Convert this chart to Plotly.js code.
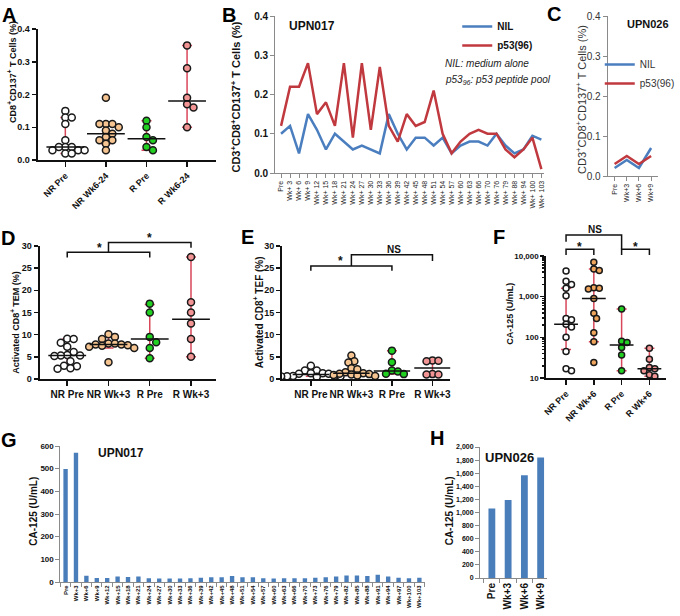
<!DOCTYPE html>
<html lang="en">
<head>
<meta charset="UTF-8">
<title>CD8 responses and CA-125</title>
<script src="https://cdn.plot.ly/plotly-3.0.1.min.js"></script>
<style>
  body { margin: 0; background: #fff; }
  #fig { width: 680px; height: 616px; }
</style>
</head>
<body>
<div id="fig"></div>
<script>
const FONT = 'Liberation Sans, Arial, sans-serif';
const W = 680, H = 616;

// ---------- A: CD8+CD137+ ----------
const groupsA = ['NR Pre', 'NR Wk6-24', 'R Pre', 'R Wk6-24'];
const aNRPre = [0.15, 0.13, 0.13, 0.11, 0.06, 0.04, 0.04, 0.04, 0.03, 0.03, 0.03, 0.02, 0.02];
const aNRWk = [0.19, 0.11, 0.11, 0.11, 0.10, 0.09, 0.08, 0.07, 0.06, 0.06, 0.05, 0.03];
const aRPre = [0.12, 0.10, 0.07, 0.06, 0.04, 0.03];
const aRWk = [0.35, 0.28, 0.19, 0.17, 0.16, 0.10];
const aMedian = [0.04, 0.08, 0.065, 0.18];
const aLow = [0.02, 0.05, 0.03, 0.10];
const aHigh = [0.13, 0.11, 0.12, 0.35];

// ---------- B / C: UPN017, UPN026 lines ----------
const weeksB = ['Pre', 'Wk+ 3', 'Wk+ 6', 'Wk+ 9', 'Wk+ 12', 'Wk+ 15', 'Wk+ 18', 'Wk+ 21', 'Wk+ 24', 'Wk+ 27',
  'Wk+ 30', 'Wk+ 33', 'Wk+ 36', 'Wk+ 39', 'Wk+ 42', 'Wk+ 45', 'Wk+ 48', 'Wk+ 51', 'Wk+ 54', 'Wk+ 57',
  'Wk+ 60', 'Wk+ 63', 'Wk+ 66', 'Wk+ 70', 'Wk+ 76', 'Wk+ 79', 'Wk+ 88', 'Wk+ 94', 'Wk+ 100', 'Wk+ 103'];
const nilB = [0.10, 0.12, 0.05, 0.15, 0.11, 0.06, 0.10, 0.08, 0.06, 0.07, 0.06, 0.05, 0.15, 0.10, 0.06,
  0.09, 0.09, 0.07, 0.09, 0.05, 0.07, 0.08, 0.08, 0.07, 0.10, 0.07, 0.05, 0.06, 0.095, 0.085];
const p53B = [0.12, 0.22, 0.22, 0.28, 0.15, 0.18, 0.12, 0.28, 0.09, 0.28, 0.11, 0.27, 0.12, 0.08, 0.15,
  0.12, 0.13, 0.21, 0.10, 0.05, 0.08, 0.10, 0.11, 0.10, 0.10, 0.06, 0.04, 0.06, 0.09, 0.01];
const weeksC = ['Pre', 'Wk+3', 'Wk+6', 'Wk+9'];
const nilC = [0.02, 0.04, 0.02, 0.07];
const p53C = [0.03, 0.05, 0.03, 0.05];

// ---------- D: TEM ----------
const groupsDE = ['NR Pre', 'NR Wk+3', 'R Pre', 'R Wk+3'];
const dNRPre = [9.1, 9.0, 8.2, 7.3, 6.1, 5.4, 5.3, 5.3, 5.2, 4.0, 3.0, 2.9, 2.4, 2.3];
const dNRWk = [10.1, 9.5, 9.0, 8.0, 8.0, 7.8, 7.8, 7.6, 7.5, 7.3, 7.0, 3.8];
const dRPre = [17.0, 15.0, 9.5, 8.3, 7.0, 4.7];
const dRWk = [27.5, 17.3, 15.0, 12.5, 9.0, 5.0];
const dMedian = [5.3, 7.8, 9.0, 13.5];
const dLow = [3.0, 7.0, 4.7, 5.0];
const dHigh = [9.0, 9.5, 16.8, 27.5];

// ---------- E: TEF ----------
const eNRPre = [3.0, 1.9, 1.9, 1.3, 1.3, 1.2, 1.2, 0.7, 0.7, 0.6, 0.6, 0.6, 0.5];
const eNRWk = [5.3, 4.0, 3.7, 2.4, 2.2, 1.5, 1.3, 1.2, 1.1, 1.0, 0.9, 0.8, 0.7];
const eRPre = [6.4, 3.8, 1.9, 1.7, 1.2, 1.1];
const eRWk = [4.2, 4.1, 4.0, 1.1, 1.0, 1.0];
const eMedian = [1.0, 1.3, 1.8, 2.5];
const eLow = [0.6, 0.8, 1.1, 1.0];
const eHigh = [1.8, 3.8, 6.4, 4.2];

// ---------- F: CA-125 groups ----------
const groupsF = ['NR Pre', 'NR Wk+6', 'R Pre', 'R Wk+6'];
const fNRPre = [4300, 2400, 2000, 1600, 1050, 290, 270, 210, 180, 100, 45, 17, 15];
const fNRWk = [7000, 4800, 4400, 1650, 1600, 1550, 900, 390, 290, 130, 78, 24];
const fRPre = [500, 80, 75, 56, 37, 15];
const fRWk = [54, 29, 18, 17, 15, 12, 11];
const fMedian = [210, 900, 65, 17];
const fLow = [50, 78, 15, 11];
const fHigh = [1600, 4800, 500, 54];
const fTickVals = [10, 100, 1000, 10000];
const fTickText = ['10', '100', '1,000', '10,000'];

// ---------- G / H: CA-125 per patient ----------
const weeksG = ['Pre', 'Wk+3', 'Wk+6', 'Wk+9', 'Wk+12', 'Wk+15', 'Wk+18', 'Wk+21', 'Wk+24', 'Wk+27', 'Wk+30',
  'Wk+33', 'Wk+36', 'Wk+39', 'Wk+42', 'Wk+45', 'Wk+48', 'Wk+51', 'Wk+54', 'Wk+57', 'Wk+60', 'Wk+63',
  'Wk+66', 'Wk+70', 'Wk+73', 'Wk+76', 'Wk+79', 'Wk+82', 'Wk+85', 'Wk+88', 'Wk+91', 'Wk+94', 'Wk+97',
  'Wk+100', 'Wk+103'];
const caG = [498, 570, 28, 18, 18, 24, 22, 24, 17, 15, 15, 15, 17, 19, 21, 21, 26, 21, 21, 17, 15, 17,
  17, 17, 19, 21, 24, 29, 29, 27, 32, 24, 19, 17, 19];
const weeksH = ['Pre', 'Wk+3', 'Wk+6', 'Wk+9'];
const caH = [1060, 1190, 1570, 1840];

// significance brackets: from, to, level, left end, right end, label, label x, label y
const bracketsD = [
  [0, 2, 28.6, 27.4, 27.4, '*', 0.78, 29.6],
  [1, 3, 30.8, 28.6, 29.6, '*', 2.0, 31.8]
];
const bracketsE = [
  [0, 2, 25.5, 24.4, 24.4, '*', 0.73, 26.6],
  [1, 3, 28.0, 25.5, 26.6, 'NS', 2.05, 29.1]
];
const bracketsF = [
  [0, 2, 32800, 22400, 14600, 'NS', 1.03, 43600],
  [0, 1, 14600, 10600, 10600, '*', 0.5, 16600],
  [2, 3, 14600, 10600, 10600, '*', 2.5, 16600]
];

// ---------- styling ----------
const BLUE = '#4a7ebf', RED = '#c0393f', BAR = '#4a7ebb', ERR = '#d9475a';
const dotColors = ['#ffffff', '#f5c491', '#22d022', '#f49595'];
const dotColorsF = ['#ffffff', '#f0a55c', '#22d022', '#f49595'];

// pixel boxes [left, right, top, bottom] of each plot area
const boxA = [38, 218, 29, 160], boxB = [278, 550, 16, 173], boxC = [614, 665, 16, 176];
const boxD = [40, 218, 246, 379], boxE = [285, 455, 246, 379], boxF = [552, 673, 256, 378];
const boxG = [61, 429, 446, 582], boxH = [485, 553, 447, 578];
const xrA = [-0.683, 3.707], xrB = [-0.66, 29.33], xrC = [-0.57, 3.58], xrD = [-0.67, 3.6];
const xrE = [-0.71, 3.44], xrF = [-0.71, 3.6], xrG = [-0.5, 34.5], xrH = [-0.73, 3.41];

function domainOf(box) {
  return { x: [box[0] / W, box[1] / W], y: [1 - box[3] / H, 1 - box[2] / H] };
}

function toPaper(box, xr, yr, isLog) {
  return {
    x: c => (box[0] + (c - xr[0]) / (xr[1] - xr[0]) * (box[1] - box[0])) / W,
    y: v => 1 - (box[3] - ((isLog ? Math.log10(v) : v) - yr[0]) / (yr[1] - yr[0]) * (box[3] - box[2])) / H
  };
}

// spread close values sideways (circles may overlap a little, like the prism plots)
function swarm(vals, toPx, pxPerCat, gap) {
  const placed = [];
  const out = new Array(vals.length);
  const order = vals.map((v, i) => i).sort((a, b) => vals[b] - vals[a]);
  const step = gap * 0.5;
  order.forEach(i => {
    const py = toPx(vals[i]);
    for (let k = 0; k < 60; k++) {
      const off = k === 0 ? 0 : (k % 2 ? 1 : -1) * Math.ceil(k / 2) * step;
      if (placed.every(p => Math.hypot(p.x - off, p.y - py) >= gap)) {
        placed.push({ x: off, y: py });
        out[i] = off / pxPerCat;
        break;
      }
    }
  });
  return out;
}

function dotPanel(n, box, xr, yr, isLog, groups, meds, lows, highs, colors, size, gap, medW) {
  const xa = 'x' + n, ya = 'y' + n;
  const pxPerCat = (box[1] - box[0]) / (xr[1] - xr[0]);
  const toPx = v => ((isLog ? Math.log10(v) : v) - yr[0]) / (yr[1] - yr[0]) * (box[3] - box[2]);
  const traces = [];
  groups.forEach((vals, i) => {
    traces.push({
      x: [i], y: [meds[i]], xaxis: xa, yaxis: ya, mode: 'markers', type: 'scatter', showlegend: false,
      marker: { size: 1, color: 'rgba(0,0,0,0)' }, hoverinfo: 'skip',
      error_y: { type: 'data', symmetric: false, array: [highs[i] - meds[i]], arrayminus: [meds[i] - lows[i]],
        color: ERR, thickness: 1.5, width: 5 }
    });
  });
  groups.forEach((vals, i) => {
    const offs = swarm(vals, toPx, pxPerCat, gap);
    traces.push({
      x: offs.map(o => i + o), y: vals, xaxis: xa, yaxis: ya, mode: 'markers', type: 'scatter', showlegend: false,
      marker: { size: size, color: colors[i], line: { color: '#1a1a1a', width: 1.5 } }
    });
  });
  traces.push({
    x: groups.map((g, i) => i), y: meds, xaxis: xa, yaxis: ya, mode: 'markers', type: 'scatter', showlegend: false,
    marker: { symbol: 'line-ew', size: medW, line: { color: '#111', width: 1.5 } }, hoverinfo: 'skip'
  });
  return traces;
}

function bracketShapes(list, map) {
  return list.map(b => ({
    type: 'path', xref: 'paper', yref: 'paper', layer: 'above',
    path: `M ${map.x(b[0])},${map.y(b[3])} L ${map.x(b[0])},${map.y(b[2])} L ${map.x(b[1])},${map.y(b[2])} L ${map.x(b[1])},${map.y(b[4])}`,
    line: { color: '#111', width: 1.5 }
  }));
}
function bracketLabels(list, map) {
  return list.map(b => ({
    xref: 'paper', yref: 'paper', x: map.x(b[6]), y: map.y(b[7]), showarrow: false,
    text: b[5], xanchor: 'center', yanchor: 'middle',
    font: { family: FONT, size: b[5] === '*' ? 12 : 10, weight: 'bold', color: '#111' }
  }));
}

// ---------- traces ----------
let data = [];
data = data.concat(dotPanel('', boxA, xrA, [0, 0.4], false, [aNRPre, aNRWk, aRPre, aRWk],
  aMedian, aLow, aHigh, dotColors, 7, 6.5, 27));
data.push({ x: weeksB, y: nilB, xaxis: 'x2', yaxis: 'y2', mode: 'lines', type: 'scatter', name: 'NIL',
  line: { color: BLUE, width: 2.5 }, legend: 'legend' });
data.push({ x: weeksB, y: p53B, xaxis: 'x2', yaxis: 'y2', mode: 'lines', type: 'scatter', name: 'p53(96)',
  line: { color: RED, width: 2.5 }, legend: 'legend' });
data.push({ x: weeksC, y: nilC, xaxis: 'x3', yaxis: 'y3', mode: 'lines', type: 'scatter', name: 'NIL',
  line: { color: BLUE, width: 2.5 }, legend: 'legend2' });
data.push({ x: weeksC, y: p53C, xaxis: 'x3', yaxis: 'y3', mode: 'lines', type: 'scatter', name: 'p53(96)',
  line: { color: RED, width: 2.5 }, legend: 'legend2' });
data = data.concat(dotPanel('4', boxD, xrD, [0, 30], false, [dNRPre, dNRWk, dRPre, dRWk],
  dMedian, dLow, dHigh, dotColors, 7, 6.5, 27));
data = data.concat(dotPanel('5', boxE, xrE, [0, 30], false, [eNRPre, eNRWk, eRPre, eRWk],
  eMedian, eLow, eHigh, dotColors, 7, 6, 26));
data = data.concat(dotPanel('6', boxF, xrF, [1, 4], true, [fNRPre, fNRWk, fRPre, fRWk],
  fMedian, fLow, fHigh, dotColorsF, 6, 5.5, 17));
data.push({ x: weeksG, y: caG, xaxis: 'x7', yaxis: 'y7', type: 'bar', width: 0.42, showlegend: false,
  marker: { color: BAR } });
data.push({ x: weeksH, y: caH, xaxis: 'x8', yaxis: 'y8', type: 'bar', width: 0.42, showlegend: false,
  marker: { color: BAR } });

// ---------- axes ----------
const prismY = { showline: true, linecolor: '#111', linewidth: 2, ticks: 'outside', ticklen: 4, tickwidth: 1.5,
  tickcolor: '#111', showgrid: false, zeroline: false, fixedrange: true };
const prismX = Object.assign({}, prismY, { ticklen: 5, tickvals: [0, 1, 2, 3] });
const excel = { showline: true, linecolor: '#8a8a8a', linewidth: 1, ticks: 'outside', ticklen: 4,
  tickcolor: '#8a8a8a', showgrid: false, zeroline: false, fixedrange: true };
const bold = (size, color) => ({ family: FONT, size, weight: 'bold', color: color || '#111' });
const plain = (size, color) => ({ family: FONT, size, color: color || '#222' });

function ax(base, box, which, extra) {
  return Object.assign({}, base, { domain: domainOf(box)[which] }, extra);
}

const layout = {
  width: W, height: H, margin: { l: 0, r: 0, t: 0, b: 0 },
  paper_bgcolor: '#fff', plot_bgcolor: 'rgba(0,0,0,0)', showlegend: true,
  xaxis: ax(prismX, boxA, 'x', { anchor: 'y', range: xrA, ticktext: groupsA, tickangle: -45, tickfont: bold(9) }),
  yaxis: ax(prismY, boxA, 'y', { anchor: 'x', range: [0, 0.4], dtick: 0.1, tickformat: '.1f', tickfont: bold(9) }),
  xaxis2: ax(excel, boxB, 'x', { anchor: 'y2', type: 'category', range: xrB, tickangle: -90, tickfont: plain(7) }),
  yaxis2: ax(excel, boxB, 'y', { anchor: 'x2', range: [0, 0.4], dtick: 0.1, tickformat: '.1f', tickfont: bold(10) }),
  xaxis3: ax(excel, boxC, 'x', { anchor: 'y3', type: 'category', range: xrC, tickangle: -90, tickfont: plain(7) }),
  yaxis3: ax(excel, boxC, 'y', { anchor: 'x3', range: [0, 0.4], dtick: 0.1, tickformat: '.1f', tickfont: plain(10, '#333') }),
  xaxis4: ax(prismX, boxD, 'x', { anchor: 'y4', range: xrD, ticktext: groupsDE, tickangle: 0, tickfont: bold(10) }),
  yaxis4: ax(prismY, boxD, 'y', { anchor: 'x4', range: [0, 30], dtick: 5, tickfont: bold(9) }),
  xaxis5: ax(prismX, boxE, 'x', { anchor: 'y5', range: xrE, ticktext: groupsDE, tickangle: 0, tickfont: bold(10) }),
  yaxis5: ax(prismY, boxE, 'y', { anchor: 'x5', range: [0, 30], dtick: 5, tickfont: bold(9) }),
  xaxis6: ax(prismX, boxF, 'x', { anchor: 'y6', range: xrF, ticktext: groupsF, tickangle: -45, tickfont: bold(9) }),
  yaxis6: ax(prismY, boxF, 'y', { anchor: 'x6', type: 'log', range: [1, 4], tickvals: fTickVals, ticktext: fTickText,
    tickfont: bold(8), minor: { ticks: 'outside', ticklen: 2, tickcolor: '#111', dtick: 'D1' } }),
  xaxis7: ax(excel, boxG, 'x', { anchor: 'y7', type: 'category', range: xrG, tickangle: -90, tickson: 'boundaries',
    tickfont: bold(6) }),
  yaxis7: ax(excel, boxG, 'y', { anchor: 'x7', range: [0, 600], dtick: 100, tickfont: bold(8) }),
  xaxis8: ax(excel, boxH, 'x', { anchor: 'y8', type: 'category', range: xrH, tickangle: -90, tickson: 'boundaries',
    tickfont: bold(10) }),
  yaxis8: ax(excel, boxH, 'y', { anchor: 'x8', range: [0, 2000], dtick: 200, tickformat: ',d', tickfont: bold(7) }),
  legend: { x: 462 / W, y: 1 - 12 / H, xanchor: 'left', yanchor: 'top', bgcolor: 'rgba(0,0,0,0)',
    font: bold(10), itemwidth: 30, tracegroupgap: 0 },
  legend2: { x: 606 / W, y: 1 - 50 / H, xanchor: 'left', yanchor: 'top', bgcolor: 'rgba(0,0,0,0)',
    font: plain(10, '#333'), itemwidth: 30, tracegroupgap: 0 },
  shapes: [],
  annotations: []
};

const mapD = toPaper(boxD, xrD, [0, 30], false);
const mapE = toPaper(boxE, xrE, [0, 30], false);
const mapF = toPaper(boxF, xrF, [1, 4], true);
layout.shapes = bracketShapes(bracketsD, mapD).concat(bracketShapes(bracketsE, mapE), bracketShapes(bracketsF, mapF));

function note(xpx, ypx, text, font, extra) {
  return Object.assign({ xref: 'paper', yref: 'paper', x: xpx / W, y: 1 - ypx / H, text, font,
    showarrow: false, xanchor: 'center', yanchor: 'middle' }, extra);
}
const letterFont = { family: FONT, size: 20, weight: 'bold', color: '#000' };
layout.annotations = [
  note(9, 15, 'A', letterFont), note(231, 15, 'B', letterFont), note(560, 14, 'C', letterFont),
  note(8, 238, 'D', letterFont), note(250, 237, 'E', letterFont), note(504, 237, 'F', letterFont),
  note(9, 440, 'G', letterFont), note(442, 438, 'H', letterFont),
  // axis titles
  note(12, 72, 'CD8<sup>+</sup>CD137<sup>+</sup> T Cells (%)', bold(9), { textangle: -90 }),
  note(238, 97, 'CD3<sup>+</sup>CD8<sup>+</sup>CD137<sup>+</sup> T Cells (%)', bold(11), { textangle: -90 }),
  note(587, 99, 'CD3<sup>+</sup>CD8<sup>+</sup>CD137<sup>+</sup> T Cells (%)', plain(11, '#333'), { textangle: -90 }),
  note(15, 322, 'Activated CD8<sup>+</sup> TEM (%)', bold(9), { textangle: -90 }),
  note(261, 312, 'Activated CD8<sup>+</sup> TEF (%)', bold(10), { textangle: -90 }),
  note(515, 314, 'CA-125 (U/mL)', bold(9), { textangle: -90 }),
  note(33, 511, 'CA-125 (U/mL)', bold(10), { textangle: -90 }),
  note(454, 511, 'CA-125 (U/mL)', bold(10), { textangle: -90 }),
  // panel titles
  note(290, 26, 'UPN017', bold(12), { xanchor: 'left' }),
  note(631, 24, 'UPN026', bold(11), { xanchor: 'left' }),
  note(97, 453, 'UPN017', bold(12), { xanchor: 'left' }),
  note(488, 457, 'UPN026', bold(13), { xanchor: 'left' }),
  note(448, 63, '<i>NIL: medium alone</i>', plain(10, '#222'), { xanchor: 'left' }),
  note(448, 80, '<i>p53<sub>96</sub>: p53 peptide pool</i>', plain(10, '#222'), { xanchor: 'left' })
].concat(bracketLabels(bracketsD, mapD), bracketLabels(bracketsE, mapE), bracketLabels(bracketsF, mapF));

Plotly.newPlot('fig', data, layout, { staticPlot: true });
</script>
</body>
</html>
